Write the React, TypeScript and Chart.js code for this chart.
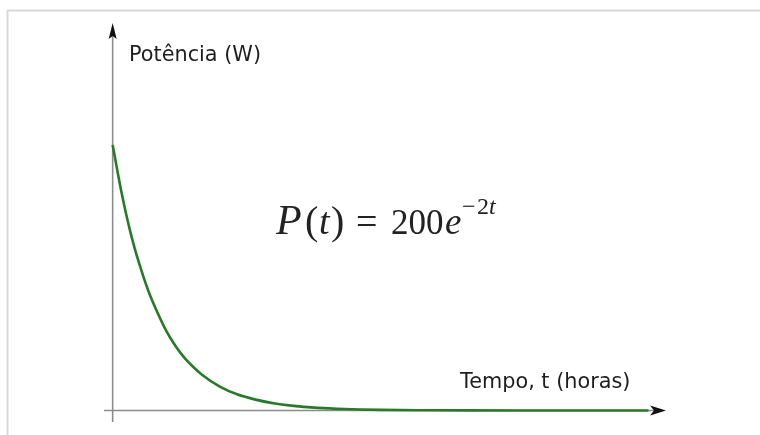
import React, { useEffect, useRef } from "react";
import { Chart, registerables } from "chart.js";

Chart.register(...registerables);

// Time in hours and power in watts
const timeHours = [0, 0.1, 0.2, 0.3, 0.4, 0.5, 0.6, 0.7, 0.8, 0.9, 1.0, 1.2, 1.4, 1.6, 1.8, 2.0, 2.3, 2.6, 3.0, 3.5, 4.0, 5.0, 6.0];
const powerWatts = [200, 164, 134, 110, 90, 74, 60, 49, 40, 33, 27, 18, 12, 8.2, 5.5, 3.7, 2.0, 1.1, 0.5, 0.2, 0.07, 0.01, 0];

const yAxisLabel = "Potência (W)";
const xAxisLabel = "Tempo, t (horas)";

const decor = {
  id: "decor",
  beforeDraw(chart: any) {
    const ctx = chart.ctx as CanvasRenderingContext2D;
    ctx.save();
    ctx.fillStyle = "#ffffff";
    ctx.fillRect(0, 0, chart.width, chart.height);
    ctx.strokeStyle = "#d9d9d9";
    ctx.lineWidth = 2;
    ctx.beginPath();
    ctx.moveTo(7.5, chart.height);
    ctx.lineTo(7.5, 10.5);
    ctx.lineTo(chart.width, 10.5);
    ctx.stroke();
    ctx.restore();
  },
  beforeDatasetsDraw(chart: any) {
    const ctx = chart.ctx as CanvasRenderingContext2D;
    const xs = chart.scales.x;
    const ys = chart.scales.y;
    const x0 = xs.getPixelForValue(0);
    const y0 = ys.getPixelForValue(0);
    const area = chart.chartArea;
    ctx.save();
    ctx.strokeStyle = "#8c8c8c";
    ctx.lineWidth = 1.6;
    ctx.beginPath();
    ctx.moveTo(area.left, y0);
    ctx.lineTo(area.right - 8, y0);
    ctx.moveTo(x0, area.bottom);
    ctx.lineTo(x0, area.top + 8);
    ctx.stroke();
    ctx.restore();
  },
  afterDraw(chart: any) {
    const ctx = chart.ctx as CanvasRenderingContext2D;
    const xs = chart.scales.x;
    const ys = chart.scales.y;
    const x0 = xs.getPixelForValue(0);
    const y0 = ys.getPixelForValue(0);
    const area = chart.chartArea;
    ctx.save();
    // arrowheads
    ctx.fillStyle = "#111111";
    ctx.beginPath();
    ctx.moveTo(area.right, y0);
    ctx.lineTo(area.right - 16, y0 - 5);
    ctx.lineTo(area.right - 12, y0);
    ctx.lineTo(area.right - 16, y0 + 5);
    ctx.closePath();
    ctx.fill();
    ctx.beginPath();
    ctx.moveTo(x0, area.top);
    ctx.lineTo(x0 - 4, area.top + 16);
    ctx.lineTo(x0, area.top + 13);
    ctx.lineTo(x0 + 4, area.top + 16);
    ctx.closePath();
    ctx.fill();

    // axis labels
    ctx.fillStyle = "#1e1e1e";
    ctx.font = "20.8px 'DejaVu Sans'";
    ctx.textBaseline = "alphabetic";
    ctx.textAlign = "left";
    ctx.fillText(yAxisLabel, 129, 61);
    ctx.fillText(xAxisLabel, 460, 388);

    // equation P(t) = 200e^{-2t}
    ctx.fillStyle = "#222222";
    const base = 234;
    const supBase = 214;
    const fam = "'Liberation Serif'";
    const put = (txt: string, font: string, x: number, y: number) => {
      ctx.font = font;
      ctx.fillText(txt, x, y);
    };
    put("P", `italic 42px ${fam}`, 276, base);
    put("(", `40px ${fam}`, 305, base);
    put("t", `italic 38px ${fam}`, 319, base);
    put(")", `40px ${fam}`, 331, base);
    put("=", `38px ${fam}`, 356, base);
    put("200", `35px ${fam}`, 391, base);
    put("e", `italic 37px ${fam}`, 445, base);
    put("\u2212", `24px ${fam}`, 462, supBase);
    put("2", `24px ${fam}`, 477, supBase);
    put("t", `italic 24px ${fam}`, 489, supBase);
    ctx.restore();
  },
};

export default function App() {
  const ref = useRef<HTMLCanvasElement>(null);
  useEffect(() => {
    document.body.style.margin = "0";
    const chart = new Chart(ref.current!, {
      type: "line",
      data: {
        datasets: [
          {
            data: timeHours.map((t, i) => ({ x: t, y: powerWatts[i] })),
            borderColor: "#287a28",
            borderWidth: 2.6,
            pointRadius: 0,
            cubicInterpolationMode: "monotone",
            fill: false,
          },
        ],
      },
      options: {
        animation: false,
        responsive: false,
        events: [],
        layout: { padding: { left: 104, right: 94, top: 23, bottom: 13 } },
        plugins: { legend: { display: false }, tooltip: { enabled: false } },
        scales: {
          x: { type: "linear", min: -0.097, max: 6.196, display: false },
          y: { type: "linear", min: -8.66, max: 291.9, display: false },
        },
      },
      plugins: [decor],
    });
    return () => chart.destroy();
  }, []);
  return (
    <div style={{ position: "absolute", left: 0, top: 0, width: 760, height: 435 }}>
      <canvas ref={ref} width={760} height={435} />
    </div>
  );
}
